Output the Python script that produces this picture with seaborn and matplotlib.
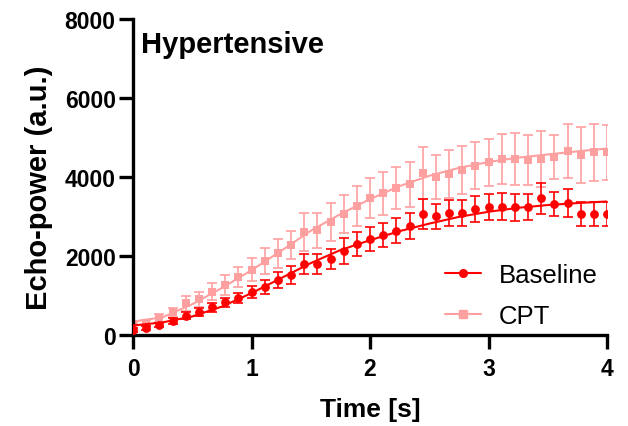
import numpy as np
import pandas as pd
import seaborn as sns
import matplotlib.pyplot as plt
from matplotlib.lines import Line2D

# frames sampled at 9 Hz over 4 s
time = np.arange(37) / 9

baseline = [127, 177, 253, 350, 489, 574, 700, 823, 935, 1092, 1224, 1384, 1527,
            1797, 1789, 1924, 2127, 2295, 2430, 2532, 2641, 2751, 3063, 3004, 3097,
            3089, 3181, 3249, 3249, 3232, 3240, 3460, 3316, 3333, 3063, 3063, 3063]
baseline_sem = [40, 50, 60, 70, 90, 100, 110, 120, 130, 145, 180, 200, 230,
                250, 250, 250, 330, 300, 295, 308, 320, 330, 380, 325, 330,
                320, 330, 330, 340, 340, 330, 388, 304, 358, 316, 316, 316]

cpt = [250, 312, 435, 574, 802, 907, 1100, 1266, 1468, 1650, 1873, 2068, 2278,
       2616, 2650, 2861, 3055, 3266, 3477, 3587, 3722, 3814, 4101, 4000, 4084,
       4177, 4287, 4371, 4456, 4447, 4439, 4456, 4506, 4650, 4565, 4624, 4624]
cpt_sem = [60, 80, 100, 120, 190, 190, 215, 250, 250, 295, 338, 360, 360,
           480, 435, 475, 485, 500, 506, 548, 527, 570, 654, 560, 610,
           600, 590, 600, 630, 660, 630, 715, 550, 680, 705, 725, 696]

# fitted curves
fit_time = [0, 0.25, 0.5, 0.75, 1.0, 1.25, 1.5, 1.75, 2.0, 2.25, 2.5, 2.75, 3.0, 3.25, 3.5, 3.75, 4.0]
baseline_fit = [240, 320, 470, 720, 1060, 1440, 1820, 2150, 2400, 2630, 2820, 2990, 3120, 3220, 3290, 3340, 3380]
cpt_fit = [340, 450, 780, 1190, 1640, 2130, 2640, 3060, 3440, 3770, 4030, 4230, 4380, 4490, 4570, 4650, 4720]

red = "#FF0000"
pink = "#FFA0A0"

sns.set_style("ticks", {"axes.edgecolor": "black", "text.color": "black",
                        "axes.labelcolor": "black", "xtick.color": "black",
                        "ytick.color": "black"})
plt.rcParams["font.family"] = ["Liberation Sans", "DejaVu Sans"]

fig = plt.figure(figsize=(6.28, 4.27), dpi=100)
ax = fig.add_axes([0.2118, 0.2131, 0.7548, 0.7401])

points = pd.DataFrame({"t": np.concatenate([time, time]),
                       "v": baseline + cpt,
                       "err": baseline_sem + cpt_sem,
                       "group": ["Baseline"] * 37 + ["CPT"] * 37})
fits = pd.DataFrame({"t": fit_time + fit_time,
                     "v": baseline_fit + cpt_fit,
                     "group": ["Baseline"] * len(fit_time) + ["CPT"] * len(fit_time)})

for group, color, marker, size, z in [("CPT", pink, "s", 32, 2), ("Baseline", red, "o", 40, 3)]:
    d = points[points.group == group]
    f = fits[fits.group == group]
    ax.errorbar(d["t"], d["v"], yerr=d["err"], fmt="none", ecolor=color, elinewidth=1.2,
                capsize=3.5, capthick=1.2, zorder=z)
    sns.lineplot(x=f["t"], y=f["v"], color=color, linewidth=1.5, ax=ax, zorder=z)
    sns.scatterplot(x=d["t"], y=d["v"], color=color, marker=marker, s=size, linewidth=0,
                    ax=ax, zorder=z + 0.5)

ax.set_xlim(0, 4)
ax.set_ylim(0, 8000)
ax.set_xticks([0, 1, 2, 3, 4])
ax.set_yticks([0, 2000, 4000, 6000, 8000])
sns.despine(ax=ax)
for s in ["left", "bottom"]:
    ax.spines[s].set_linewidth(2.4)
ax.tick_params(width=2.4, length=10, labelsize=16.5)
ax.tick_params(axis="x", pad=6)
ax.tick_params(axis="y", pad=2.5)
for lab in ax.get_xticklabels() + ax.get_yticklabels():
    lab.set_fontweight("bold")

ax.set_xlabel("Time [s]", fontsize=19, fontweight="bold", labelpad=12)
ax.set_ylabel("Echo-power (a.u.)", fontsize=21, fontweight="bold")
ax.yaxis.set_label_coords(-0.169, 0.47)
ax.text(0.017, 0.8956, "Hypertensive", transform=ax.transAxes, fontsize=21,
        fontweight="bold", va="baseline", ha="left")

handles = [Line2D([], [], color=red, marker="o", markersize=5.5, linewidth=1.5),
           Line2D([], [], color=pink, marker="s", markersize=5.5, linewidth=1.5)]
ax.legend(handles, ["Baseline", "CPT"], frameon=False, fontsize=18.5,
          handlelength=1.4, handletextpad=0.7, labelspacing=0.65,
          loc="upper left", bbox_to_anchor=(0.61, 0.30))

fig.savefig("out.png", dpi=100)
